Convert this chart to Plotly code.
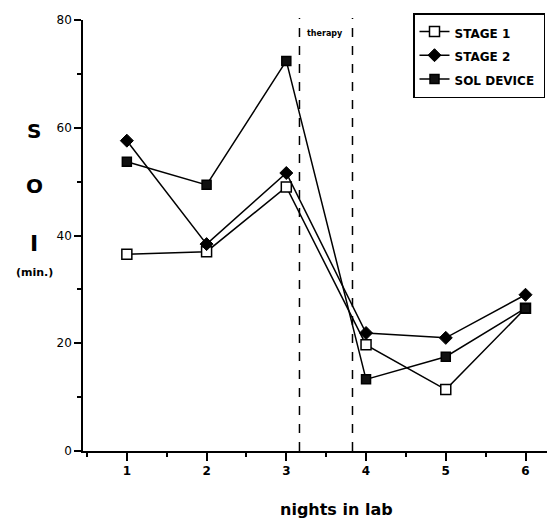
import plotly.graph_objects as go

nights = [1, 2, 3, 4, 5, 6]
stage1 = [36.5, 37.0, 49.0, 19.7, 11.4, 26.5]
stage2 = [57.6, 38.4, 51.6, 21.9, 21.0, 29.0]
sol_device = [53.7, 49.4, 72.4, 13.3, 17.5, 26.5]
therapy_bounds = [3.165, 3.83]
x_ticks = [1, 2, 3, 4, 5, 6]
y_ticks = [0, 20, 40, 60, 80]
series_names = ["STAGE 1", "STAGE 2", "SOL DEVICE"]

# page body adds an 8px offset; screen coords below are in the screenshot frame
OFF = 8
W, H = 555 - OFF, 526 - OFF
PL, PT, PR, PB = 83, 20, 555, 451  # plot area in screen coords
ML, MT = PL - OFF, PT - OFF
MR = W - (PR - OFF)
MB = H - (PB - OFF)
PW = PR - PL
PH = PB - PT

def px_x(p):
    return (p - PL) / PW

def px_y(p):
    return (PB - p) / PH

FONT = "DejaVu Sans"

def leg(name):
    return "<span style='font-size:12px'>" + name + "&nbsp;</span>"

fig = go.Figure()
fig.add_trace(go.Scatter(
    x=nights, y=stage1, mode="lines+markers", name=leg(series_names[0]),
    line=dict(color="black", width=1.5),
    marker=dict(symbol="square", size=10, color="white", line=dict(color="black", width=1.5)),
))
fig.add_trace(go.Scatter(
    x=nights, y=stage2, mode="lines+markers", name=leg(series_names[1]),
    line=dict(color="black", width=1.5),
    marker=dict(symbol="diamond", size=10, color="black", line=dict(color="black", width=1)),
))
fig.add_trace(go.Scatter(
    x=nights, y=sol_device, mode="lines+markers", name=leg(series_names[2]),
    line=dict(color="black", width=1.5),
    marker=dict(symbol="square", size=9, color="#111", line=dict(color="black", width=1.5)),
))

for xb in therapy_bounds:
    fig.add_shape(type="line", xref="x", yref="paper", x0=xb, x1=xb,
                  y0=0, y1=px_y(18), line=dict(color="black", width=1.5, dash="dash"))

def ann(text, x, y, size):
    fig.add_annotation(x=px_x(x), y=px_y(y), xref="paper", yref="paper", text=text,
                       xanchor="center", yanchor="middle", showarrow=False,
                       font=dict(family=FONT, size=size, color="black"))

ann("<b>therapy</b>", 325, 33, 8)
ann("<b>S</b>", 34, 131, 20)
ann("<b>O</b>", 34, 186, 20)
ann("<b>I</b>", 34, 243, 22)
ann("<b>(min.)</b>", 34, 272, 11)
ann("<b>nights in lab</b>", 336, 509, 16)

fig.update_layout(
    width=W, height=H,
    margin=dict(l=ML, r=MR, t=MT, b=MB, autoexpand=False),
    paper_bgcolor="white", plot_bgcolor="white",
    font=dict(family=FONT, color="black"),
    showlegend=True,
    legend=dict(
        x=px_x(413), y=px_y(13), xanchor="left", yanchor="top",
        bordercolor="black", borderwidth=1.5, bgcolor="white",
        itemwidth=30,
        font=dict(family=FONT, size=16, color="black", weight="bold"),
    ),
    xaxis=dict(
        range=[0.45, 6.37], showgrid=False, zeroline=False,
        showline=True, linecolor="black", linewidth=1.5,
        tickmode="array", tickvals=x_ticks, ticktext=[str(v) for v in x_ticks],
        ticks="outside", ticklen=8, tickwidth=1.5, tickcolor="black",
        tickfont=dict(family=FONT, size=12, color="black", weight="bold"),
        minor=dict(ticks="outside", dtick=0.5, tick0=0.5, ticklen=4, tickwidth=1.5, tickcolor="black"),
    ),
    yaxis=dict(
        range=[0, 80], showgrid=False, zeroline=False,
        showline=True, linecolor="black", linewidth=1.5,
        tickmode="array", tickvals=y_ticks, ticktext=[str(v) for v in y_ticks],
        ticks="outside", ticklen=7, tickwidth=1.5, tickcolor="black",
        tickfont=dict(family=FONT, size=12, color="black"),
        minor=dict(ticks="outside", dtick=10, tick0=0, ticklen=4, tickwidth=1.5, tickcolor="black"),
    ),
)

fig.write_html("out.html")
